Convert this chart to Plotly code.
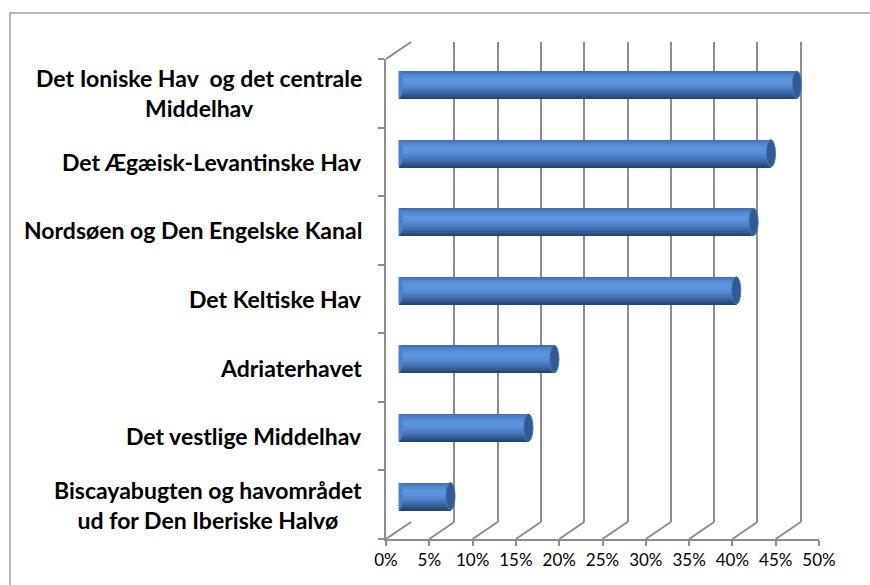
import plotly.graph_objects as go

# ---------------- data ----------------
categories = [
    "Det Ioniske Hav \u00a0og det centrale<br>Middelhav",
    "Det Ægæisk-Levantinske Hav",
    "Nordsøen og Den Engelske Kanal",
    "Det Keltiske Hav",
    "Adriaterhavet",
    "Det vestlige Middelhav",
    "Biscayabugten og havområdet<br>ud for Den Iberiske Halvø",
]
values = [46, 43, 41, 39, 18, 15, 6]
x_tick_vals = [0, 5, 10, 15, 20, 25, 30, 35, 40, 45, 50]
x_tick_labels = ["0%", "5%", "10%", "15%", "20%", "25%", "30%", "35%", "40%", "45%", "50%"]

# ---------------- geometry (pixels) ----------------
W, H = 870, 585
FX0, FX1 = 386, 819      # front plane x extent
FY0, FY1 = 59, 539       # front plane y extent (top, bottom)
DX, DY = 25, -17         # depth offset to back wall
XMAX = 50
n = len(categories)


def dom_x(x0, x1):
    return [x0 / W, x1 / W]


def dom_y(y0, y1):
    return [1 - y1 / H, 1 - y0 / H]


def hex2rgb(hx):
    hx = hx.lstrip("#")
    return [int(hx[k:k + 2], 16) for k in (0, 2, 4)]


def shade(t, stops):
    for (t0, c0), (t1, c1) in zip(stops[:-1], stops[1:]):
        if t0 <= t <= t1:
            f = (t - t0) / (t1 - t0) if t1 > t0 else 0
            a, b = hex2rgb(c0), hex2rgb(c1)
            return "rgb(%d,%d,%d)" % tuple(round(a[k] + (b[k] - a[k]) * f) for k in range(3))
    return stops[-1][1]


GRID = "#8c8c8c"
fig = go.Figure()

# invisible traces so every subplot is created
fig.add_trace(go.Scatter(x=[None], y=[None], xaxis="x", yaxis="y", showlegend=False, hoverinfo="skip"))
fig.add_trace(go.Scatter(x=[None], y=[None], xaxis="x2", yaxis="y2", showlegend=False, hoverinfo="skip"))

# cylinder bars: stacked horizontal bands for shading
stops = [(0.0, "#3b6aae"), (0.12, "#4d84cd"), (0.32, "#5d97df"), (0.5, "#5890d8"),
         (0.7, "#4576bb"), (0.88, "#32598f"), (1.0, "#23426d")]
nb = 18
thick = 0.4
h = thick / nb
for i in range(nb):
    c = shade((i + 0.5) / nb, stops)
    fig.add_trace(go.Bar(
        x=values, y=categories, orientation="h",
        xaxis="x3", yaxis="y3",
        width=h * 1.05, offset=-thick / 2 + i * h,
        marker=dict(color=c, line=dict(width=0)),
        showlegend=False, hoverinfo="skip",
    ))

shapes = []
px_per_unit = (FX1 - FX0) / XMAX
ddx = DX / px_per_unit
rx = 4.6 / px_per_unit

# left & right caps
for i, v in enumerate(values):
    shapes.append(dict(type="circle", xref="x3", yref="y3", layer="above",
                       x0=-rx, x1=rx, y0=i - thick / 2, y1=i + thick / 2,
                       fillcolor="#4c82c9", line=dict(width=0)))
    shapes.append(dict(type="circle", xref="x3", yref="y3", layer="above",
                       x0=v - rx, x1=v + rx, y0=i - thick / 2, y1=i + thick / 2,
                       fillcolor="#315b92", line=dict(color="#4a78b5", width=1)))

# floor diagonals
floor_front = 1 - FY1 / H
floor_back = 1 - (FY1 + DY) / H
for t in x_tick_vals:
    shapes.append(dict(type="line", xref="x", yref="paper",
                       x0=t, x1=t + ddx, y0=floor_front, y1=floor_back,
                       line=dict(color=GRID, width=2)))
# left wall top diagonal
shapes.append(dict(type="line", xref="x", yref="paper",
                   x0=0, x1=ddx, y0=1 - FY0 / H, y1=1 - (FY0 + DY) / H,
                   line=dict(color=GRID, width=2)))
# chart border
shapes.append(dict(type="rect", xref="paper", yref="paper",
                   x0=10 / W, x1=1.02, y0=-0.02, y1=1 - 13 / H,
                   line=dict(color="#a0a0a0", width=1.5), fillcolor="rgba(0,0,0,0)"))

# category labels
annotations = []
for i, name in enumerate(categories):
    annotations.append(dict(text=name, xref="paper", yref="y", x=364 / W, y=i,
                            xanchor="right", yanchor="middle", align="center",
                            showarrow=False,
                            font=dict(family="Lato", size=23, color="#000000", weight="bold")))

fig.update_layout(
    width=W, height=H,
    margin=dict(l=0, r=0, t=0, b=0, autoexpand=False),
    paper_bgcolor="white", plot_bgcolor="rgba(0,0,0,0)",
    barmode="overlay", bargap=0,
    showlegend=False,
    shapes=shapes, annotations=annotations,
    # front plane: axis line, ticks, labels
    xaxis=dict(domain=dom_x(FX0, FX1), anchor="y", range=[0, XMAX],
               tickmode="array", tickvals=x_tick_vals, ticktext=x_tick_labels,
               showgrid=False, zeroline=False, showline=True, linecolor=GRID, linewidth=2,
               ticks="outside", ticklen=5, tickwidth=2, tickcolor=GRID,
               tickfont=dict(family="Lato", size=17, color="#000000")),
    yaxis=dict(domain=dom_y(FY0, FY1), anchor="x", range=[n - 0.5, -0.5],
               tickmode="array", tickvals=[k - 0.5 for k in range(n + 1)],
               showticklabels=False, showgrid=False, zeroline=False,
               showline=True, linecolor=GRID, linewidth=2,
               ticks="outside", ticklen=6, tickwidth=2, tickcolor=GRID),
    # back wall: gridlines
    xaxis2=dict(domain=dom_x(FX0 + DX, FX1 + DX), anchor="y2", range=[0, XMAX],
                tickmode="array", tickvals=x_tick_vals, showticklabels=False,
                showgrid=True, gridcolor=GRID, gridwidth=2, zeroline=False,
                showline=False, ticks=""),
    yaxis2=dict(domain=dom_y(FY0 + DY, FY1 + DY), anchor="x2", range=[0, 1],
                visible=False),
    # middle plane: bars
    xaxis3=dict(domain=dom_x(FX0 + DX / 2, FX1 + DX / 2), anchor="y3", range=[0, XMAX],
                visible=False),
    yaxis3=dict(domain=dom_y(FY0 + DY / 2, FY1 + DY / 2), anchor="x3",
                type="category", categoryorder="array", categoryarray=categories,
                range=[n - 0.5, -0.5], visible=False),
)

fig.write_html("out.html",
               config={"displayModeBar": False},
               post_script="document.body.style.margin='0';document.body.style.overflow='hidden';")
